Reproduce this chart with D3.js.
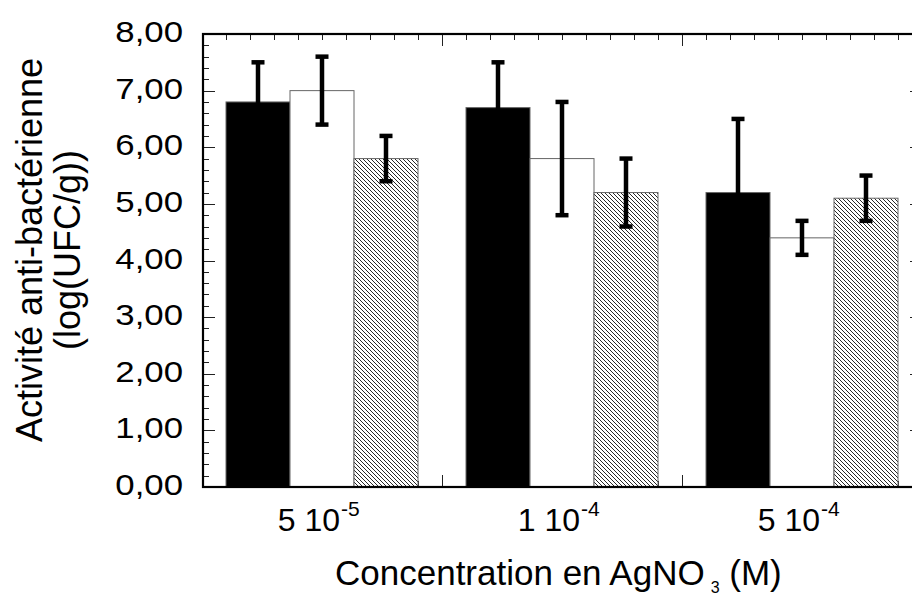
<!DOCTYPE html>
<html>
<head>
<meta charset="utf-8">
<script src="https://cdn.jsdelivr.net/npm/d3@7"></script>
<style>
  html, body { margin: 0; padding: 0; background: #fff; }
  svg { display: block; font-family: "Liberation Sans", Arial, sans-serif; }
</style>
</head>
<body>
<svg id="chart" width="912" height="599"></svg>
<script>
// ---- data ----
const categoryMantissa = ["5 10", "1 10", "5 10"];
const categoryExponent = ["-5", "-4", "-4"];
const seriesNames = ["s1", "s2", "s3"];
const seriesFill = ["black", "white", "hatch"];
const values1 = [6.8, 6.7, 5.2];
const values2 = [7.0, 5.8, 4.4];
const values3 = [5.8, 5.2, 5.1];
const errors1 = [0.7, 0.8, 1.3];
const errors2 = [0.6, 1.0, 0.3];
const errors3 = [0.4, 0.6, 0.4];
const yTickValues = [0, 1, 2, 3, 4, 5, 6, 7, 8];
const yTitleLines = ["Activité anti-bactérienne", "(log(UFC/g))"];

const seriesValues = [values1, values2, values3];
const seriesErrors = [errors1, errors2, errors3];
const categories = categoryMantissa.map((m, i) => m + "^" + categoryExponent[i] + "#" + i);

// ---- layout ----
const svg = d3.select("#chart");
const pLeft = 203, pRight = 922, pTop = 34, pBottom = 487;

const x = d3.scaleBand().domain(categories).range([202, 922]).paddingInner(0).paddingOuter(0);
const xs = d3.scaleBand().domain(seriesNames).range([0, x.bandwidth()]).paddingInner(0).paddingOuter(0.375);
const xUnit = d3.scaleLinear().domain([0, categories.length]).range([202, 922]);
const y = d3.scaleLinear().domain([0, 8]).range([pBottom, pTop]);

const locale = d3.formatLocale({decimal: ",", thousands: " ", grouping: [3], currency: ["", ""]});
const fmt = locale.format(".2f");

// hatch pattern
const defs = svg.append("defs");
const pat = defs.append("pattern").attr("id", "hatch").attr("patternUnits", "userSpaceOnUse")
  .attr("width", 4).attr("height", 4);
pat.append("rect").attr("width", 4).attr("height", 4).attr("fill", "white");
pat.append("path").attr("d", "M-1,-1 L5,5 M-1,3 L1,5 M3,-1 L5,1")
  .attr("stroke", "black").attr("stroke-width", 0.85);

// ---- ticks ----
const tickG = svg.append("g").attr("stroke", "#222").attr("stroke-width", 1);
const yMinor = d3.range(0, 40.5, 1).map(d => d / 5);
yMinor.forEach(v => {
  const major = Math.abs(v - Math.round(v)) < 1e-9;
  const len = major ? 12 : 6;
  const yy = Math.round(y(v)) + 0.5;
  tickG.append("line").attr("x1", pLeft).attr("x2", pLeft + len).attr("y1", yy).attr("y2", yy);
  tickG.append("line").attr("x1", pRight).attr("x2", pRight - len).attr("y1", yy).attr("y2", yy);
});
const xMinor = d3.range(0, categories.length * 10 + 0.5, 1).map(d => d / 10);
xMinor.forEach(v => {
  const major = Math.abs(v - Math.round(v)) < 1e-9;
  const len = major ? 12 : 6;
  const xx = Math.round(xUnit(v)) + 0.5;
  tickG.append("line").attr("x1", xx).attr("x2", xx).attr("y1", pBottom).attr("y2", pBottom - len);
  tickG.append("line").attr("x1", xx).attr("x2", xx).attr("y1", pTop).attr("y2", pTop + len);
});

// ---- bars ----
const barG = svg.append("g");
categories.forEach((c, ci) => {
  seriesNames.forEach((s, si) => {
    const v = seriesValues[si][ci];
    const fill = seriesFill[si] === "hatch" ? "url(#hatch)" : seriesFill[si];
    barG.append("rect")
      .attr("x", x(c) + xs(s))
      .attr("y", y(v))
      .attr("width", xs.bandwidth())
      .attr("height", y(0) - y(v))
      .attr("fill", fill)
      .attr("stroke", "#666")
      .attr("stroke-width", 1);
  });
});

// ---- error bars ----
const errG = svg.append("g").attr("stroke", "black");
categories.forEach((c, ci) => {
  seriesNames.forEach((s, si) => {
    const v = seriesValues[si][ci], e = seriesErrors[si][ci];
    const cx = x(c) + xs(s) + xs.bandwidth() / 2;
    const y1 = y(v + e), y2 = y(v - e);
    errG.append("line").attr("x1", cx).attr("x2", cx).attr("y1", y1).attr("y2", y2).attr("stroke-width", 4.5);
    [y1, y2].forEach(yy => {
      errG.append("line").attr("x1", cx - 6.5).attr("x2", cx + 6.5).attr("y1", yy).attr("y2", yy).attr("stroke-width", 4.5);
    });
  });
});

// ---- frame ----
svg.append("rect").attr("x", pLeft).attr("y", pTop).attr("width", pRight - pLeft).attr("height", pBottom - pTop)
  .attr("fill", "none").attr("stroke", "black").attr("stroke-width", 2.2);

// ---- y tick labels ----
const ylab = svg.append("g").attr("font-size", 30).attr("fill", "black");
yTickValues.forEach(v => {
  ylab.append("text")
    .attr("transform", `translate(183,${y(v) + 8}) scale(1.16,1)`)
    .attr("text-anchor", "end")
    .text(fmt(v));
});

// ---- x tick labels ----
const xlab = svg.append("g").attr("fill", "black");
categories.forEach((c, ci) => {
  xlab.append("text")
    .attr("x", x(c) + x.bandwidth() / 2 + 18)
    .attr("y", 531)
    .attr("text-anchor", "end")
    .attr("font-size", 32)
    .text(categoryMantissa[ci]);
  xlab.append("text")
    .attr("x", x(c) + x.bandwidth() / 2 + 19)
    .attr("y", 516)
    .attr("font-size", 21)
    .text(categoryExponent[ci]);
});

// ---- axis titles ----
const xt = svg.append("text").attr("x", 335).attr("y", 585).attr("font-size", 35).attr("fill", "black");
xt.append("tspan").text("Concentration en AgNO");
xt.append("tspan").attr("font-size", 16).attr("dx", 6).attr("dy", 8).text("3");
xt.append("tspan").attr("font-size", 35).attr("dy", -8).text(" (M)");

const yt = svg.append("g").attr("font-size", 36).attr("fill", "black");
yTitleLines.forEach((line, i) => {
  yt.append("text")
    .attr("transform", `translate(${42 + i * 38},250) rotate(-90)`)
    .attr("text-anchor", "middle")
    .text(line);
});
</script>
</body>
</html>
